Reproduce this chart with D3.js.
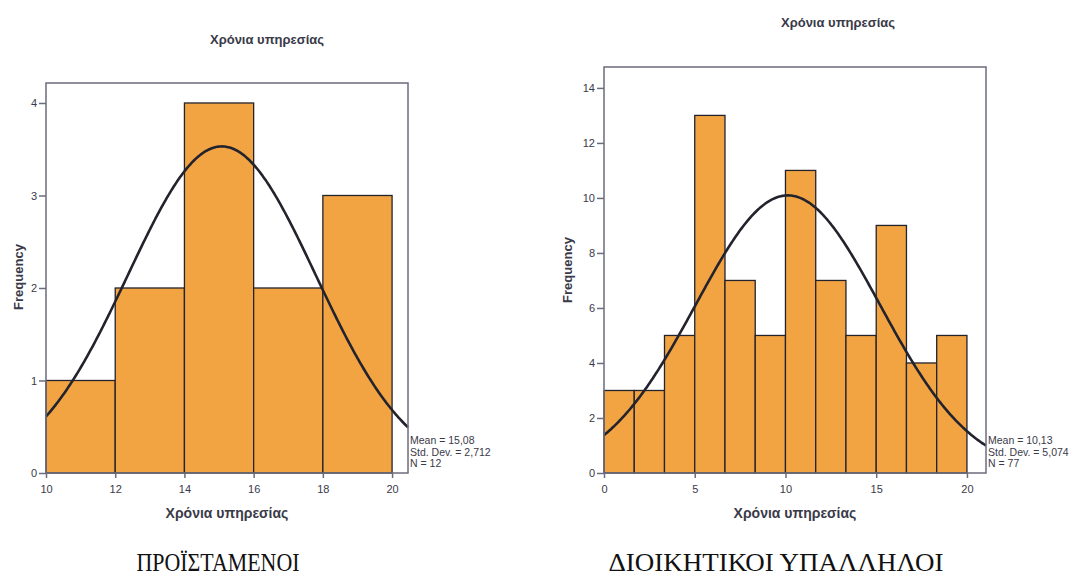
<!DOCTYPE html>
<html>
<head>
<meta charset="utf-8">
<script src="https://cdn.jsdelivr.net/npm/d3@7"></script>
<style>
  html, body { margin: 0; padding: 0; background: #ffffff; }
  svg { display: block; }
</style>
</head>
<body>
<svg id="chart" width="1086" height="576"></svg>
<script>
// Histogram of years of service, heads of department
const supBinEdges = [10, 12, 14, 16, 18, 20];
const supCounts = [1, 2, 4, 2, 3];
const supXTicks = [10, 12, 14, 16, 18, 20];
const supYTicks = [0, 1, 2, 3, 4];
const supStats = { mean: 15.08, sd: 2.712, n: 12 };
const supStatLabels = ["Mean = 15,08", "Std. Dev. = 2,712", "N = 12"];

// Histogram of years of service, administrative staff
const admBinEdges = [0, 1.667, 3.333, 5, 6.667, 8.333, 10, 11.667, 13.333, 15, 16.667, 18.333, 20];
const admCounts = [3, 3, 5, 13, 7, 5, 11, 7, 5, 9, 4, 5];
const admXTicks = [0, 5, 10, 15, 20];
const admYTicks = [0, 2, 4, 6, 8, 10, 12, 14];
const admStats = { mean: 10.13, sd: 5.074, n: 77 };
const admStatLabels = ["Mean = 10,13", "Std. Dev. = 5,074", "N = 77"];

const chartTitle = "Χρόνια υπηρεσίας";
const xTitle = "Χρόνια υπηρεσίας";
const yTitle = "Frequency";
const captions = ["ΠΡΟΪΣΤΑΜΕΝΟΙ", "ΔΙΟΙΚΗΤΙΚΟΙ ΥΠΑΛΛΗΛΟΙ"];

const svg = d3.select("#chart");
const sans = "'Liberation Sans', Arial, sans-serif";
const barFill = "#f2a443";
const inkDark = "#23232e";
const frameCol = "#6c6c7c";
const textCol = "#3a3a48";

function histogram(cfg) {
  const g = svg.append("g");
  const x = d3.scaleLinear().domain(cfg.xDomain).range([cfg.left, cfg.right]);
  const y = d3.scaleLinear().domain(cfg.yDomain).range([cfg.bottom, cfg.top]);

  // bars
  const bins = cfg.counts.map((c, i) => ({ x0: cfg.edges[i], x1: cfg.edges[i + 1], c }));
  g.selectAll("rect.bar").data(bins).join("rect")
    .attr("class", "bar")
    .attr("x", d => x(d.x0))
    .attr("width", d => x(d.x1) - x(d.x0))
    .attr("y", d => y(d.c))
    .attr("height", d => y(0) - y(d.c))
    .attr("fill", barFill)
    .attr("stroke", inkDark)
    .attr("stroke-width", 1.3);

  // fitted normal curve scaled to counts
  const bw = cfg.edges[1] - cfg.edges[0];
  const k = cfg.stats.n * bw / (cfg.stats.sd * Math.sqrt(2 * Math.PI));
  const pts = d3.range(0, 301).map(i => {
    const xv = cfg.xDomain[0] + (cfg.xDomain[1] - cfg.xDomain[0]) * i / 300;
    const z = (xv - cfg.stats.mean) / cfg.stats.sd;
    return [xv, k * Math.exp(-0.5 * z * z)];
  });
  g.append("path")
    .attr("d", d3.line().x(d => x(d[0])).y(d => y(d[1]))(pts))
    .attr("fill", "none")
    .attr("stroke", inkDark)
    .attr("stroke-width", 2.6);

  // frame
  g.append("rect")
    .attr("x", cfg.left).attr("y", cfg.top)
    .attr("width", cfg.right - cfg.left).attr("height", cfg.bottom - cfg.top)
    .attr("fill", "none").attr("stroke", frameCol).attr("stroke-width", 1.5);

  // axes
  const xAxis = g.append("g").attr("transform", `translate(0,${cfg.bottom})`)
    .call(d3.axisBottom(x).tickValues(cfg.xTicks).tickFormat(d3.format("d"))
      .tickSize(5).tickSizeOuter(0).tickPadding(7));
  const yAxis = g.append("g").attr("transform", `translate(${cfg.left},0)`)
    .call(d3.axisLeft(y).tickValues(cfg.yTicks).tickFormat(d3.format("d"))
      .tickSize(7).tickSizeOuter(0).tickPadding(2));
  [xAxis, yAxis].forEach(a => {
    a.select(".domain").remove();
    a.selectAll("line").attr("stroke", frameCol).attr("stroke-width", 1.5);
    a.selectAll("text").attr("fill", textCol)
      .style("font-family", sans).style("font-size", "11px");
  });

  // titles
  g.append("text").attr("x", cfg.titleX).attr("y", cfg.titleY)
    .attr("text-anchor", "middle").attr("fill", textCol)
    .style("font-family", sans).style("font-size", "13px").style("font-weight", "bold")
    .text(chartTitle);
  g.append("text").attr("x", (cfg.left + cfg.right) / 2).attr("y", cfg.bottom + 45)
    .attr("text-anchor", "middle").attr("fill", textCol)
    .style("font-family", sans).style("font-size", "14px").style("font-weight", "bold")
    .text(xTitle);
  g.append("text")
    .attr("transform", `translate(${cfg.left - cfg.yTitleOffset},${cfg.yTitleY}) rotate(-90)`)
    .attr("text-anchor", "middle").attr("dy", "0.35em").attr("fill", textCol)
    .style("font-family", sans).style("font-size", "13px").style("font-weight", "bold")
    .text(yTitle);

  // summary statistics
  g.selectAll("text.stat").data(cfg.statLabels).join("text")
    .attr("class", "stat")
    .attr("x", cfg.right + 2)
    .attr("y", (d, i) => cfg.bottom - 29 + i * 11.5)
    .attr("fill", textCol)
    .style("font-family", sans).style("font-size", "10.5px")
    .text(d => d);

  // caption
  svg.append("text").attr("x", cfg.captionX).attr("y", 571)
    .attr("text-anchor", "middle").attr("fill", "#111")
    .attr("textLength", cfg.captionWidth).attr("lengthAdjust", "spacingAndGlyphs")
    .style("font-family", "'Liberation Serif', 'Times New Roman', serif")
    .style("font-size", "25px")
    .text(cfg.caption);
}

histogram({
  edges: supBinEdges, counts: supCounts, stats: supStats, statLabels: supStatLabels,
  xTicks: supXTicks, yTicks: supYTicks,
  xDomain: [10, 20.46], yDomain: [0, 4.216],
  left: 46, right: 408, top: 83, bottom: 473,
  titleX: 267, titleY: 44, yTitleY: 277, yTitleOffset: 28,
  caption: captions[0], captionX: 218, captionWidth: 163
});

histogram({
  edges: admBinEdges, counts: admCounts, stats: admStats, statLabels: admStatLabels,
  xTicks: admXTicks, yTicks: admYTicks,
  xDomain: [0, 21.05], yDomain: [0, 14.76],
  left: 604, right: 986, top: 67, bottom: 473,
  titleX: 838, titleY: 27, yTitleY: 270, yTitleOffset: 37,
  caption: captions[1], captionX: 776, captionWidth: 335
});
</script>
</body>
</html>
